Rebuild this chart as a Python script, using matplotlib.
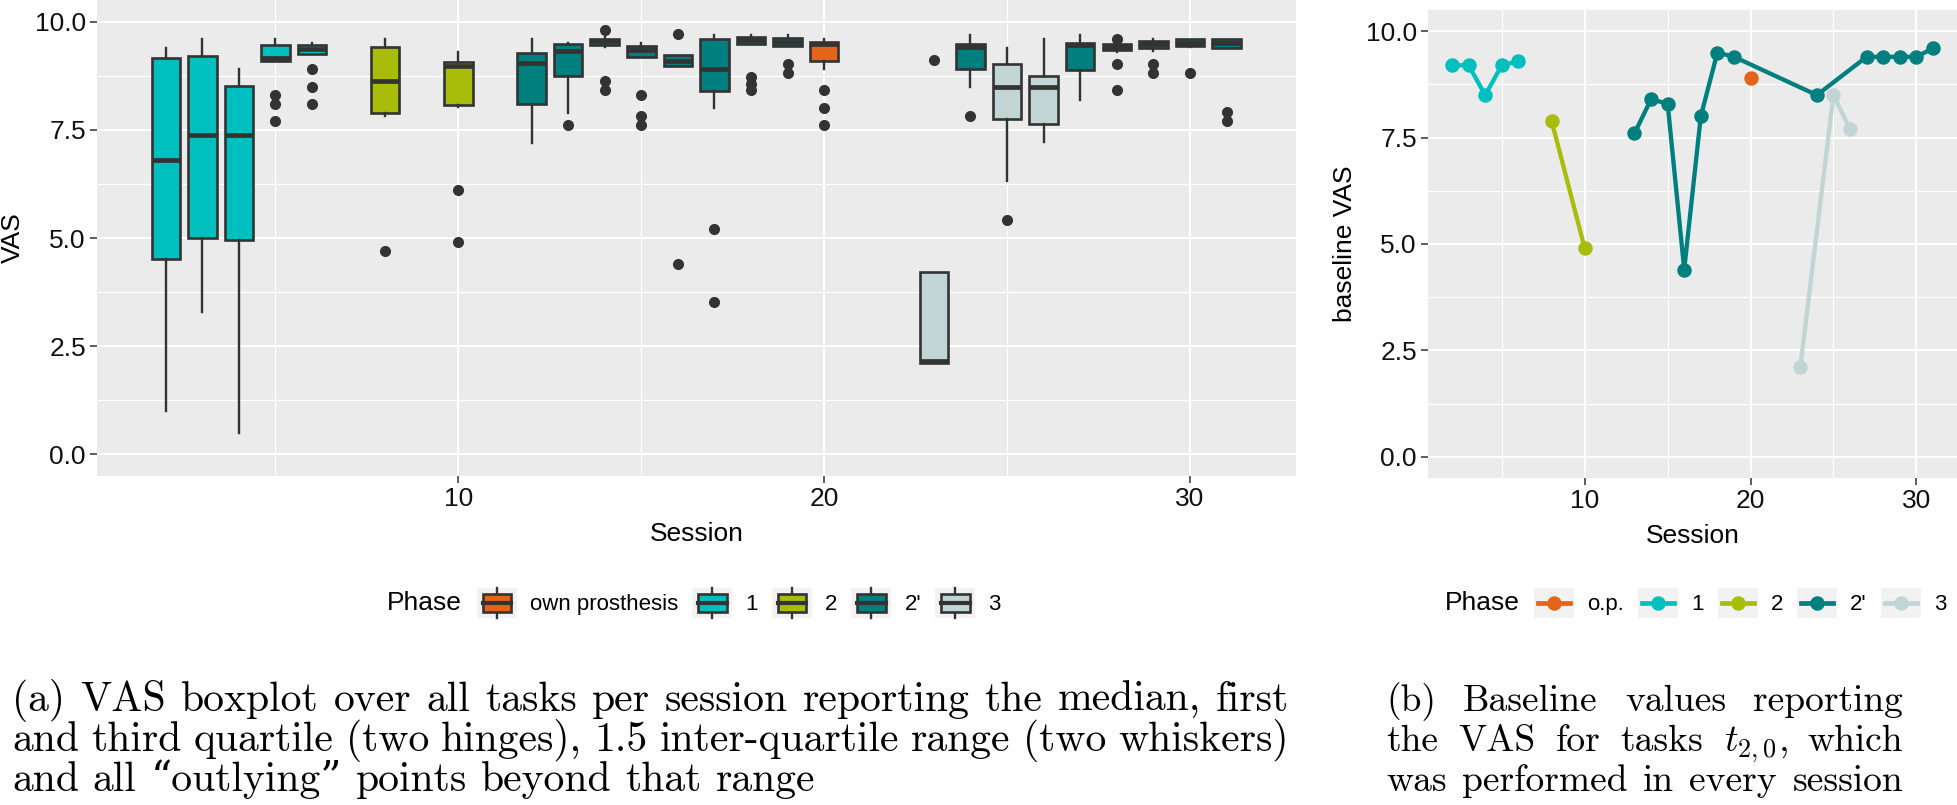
import matplotlib
matplotlib.use('Agg')
import matplotlib.pyplot as plt
from matplotlib.patches import Rectangle, Patch
from matplotlib.lines import Line2D
from matplotlib.legend_handler import HandlerBase
from matplotlib.ticker import FormatStrFormatter

W, H = 1957, 805

# phases: colour and the two legend spellings
phases = ['op', '1', '2', "2'", '3']
phase_colors = ['#E6641A', '#00BFBF', '#A8BC0A', '#007F7F', '#C0D5D4']
labels_a = ['own prosthesis', '1', '2', "2'", '3']
labels_b = ['o.p.', '1', '2', "2'", '3']

# (a) box statistics per session
sessions = [2, 3, 4, 5, 6, 8, 10, 12, 13, 14, 15, 16, 17, 18, 19, 20,
            23, 24, 25, 26, 27, 28, 29, 30, 31]
box_phase = ['1', '1', '1', '1', '1', '2', '2', "2'", "2'", "2'", "2'", "2'", "2'", "2'", "2'", 'op',
             '3', "2'", '3', '3', "2'", "2'", "2'", "2'", "2'"]
q1 = [4.51, 5.0, 4.95, 9.1, 9.26, 7.89, 8.08, 8.09, 8.74, 9.47, 9.18, 8.97, 8.4, 9.49, 9.44, 9.1,
      2.11, 8.91, 7.76, 7.64, 8.89, 9.34, 9.39, 9.44, 9.39]
med = [6.81, 7.37, 7.37, 9.15, 9.37, 8.62, 8.98, 9.04, 9.31, 9.55, 9.34, 9.1, 8.91, 9.57, 9.53, 9.49,
       2.15, 9.41, 8.5, 8.5, 9.45, 9.41, 9.48, 9.51, 9.5]
q3 = [9.17, 9.2, 8.51, 9.47, 9.47, 9.41, 9.06, 9.28, 9.48, 9.61, 9.43, 9.22, 9.61, 9.65, 9.62, 9.54,
      4.21, 9.49, 9.01, 8.75, 9.51, 9.48, 9.55, 9.61, 9.61]
whis_lo = [1.0, 3.3, 0.5, 9.1, 9.26, 7.82, 8.03, 7.2, 7.9, 9.41, 9.18, 8.97, 8.01, 9.49, 9.44, 8.91,
           2.11, 8.5, 6.31, 7.21, 8.2, 9.3, 9.32, 9.41, 9.39]
whis_hi = [9.39, 9.6, 8.9, 9.6, 9.5, 9.6, 9.29, 9.6, 9.5, 9.65, 9.5, 9.22, 9.7, 9.7, 9.7, 9.59,
           4.21, 9.7, 9.39, 9.59, 9.7, 9.55, 9.59, 9.61, 9.61]
fliers = [[], [], [], [8.3, 8.1, 7.7], [8.9, 8.5, 8.1], [4.71], [6.1, 4.9], [], [7.6],
          [9.81, 8.62, 8.41], [8.3, 7.81, 7.6], [9.71, 4.41], [5.21, 3.51], [8.71, 8.57, 8.43],
          [9.03, 8.81], [8.41, 8.01, 7.6], [9.11], [7.81], [5.41], [], [], [9.61, 9.03, 8.41],
          [9.03, 8.81], [8.81], [7.91, 7.71]]

# (b) baseline VAS of task t_{2,0}
base_session = [2, 3, 4, 5, 6, 8, 10, 13, 14, 15, 16, 17, 18, 19, 20, 23, 24, 25, 26, 27, 28, 29, 30, 31]
base_vas = [9.2, 9.2, 8.5, 9.2, 9.3, 7.9, 4.9, 7.6, 8.4, 8.3, 4.4, 8.0, 9.5, 9.4, 8.9, 2.1, 8.5, 8.5, 7.7,
            9.4, 9.4, 9.4, 9.4, 9.6]
base_phase = ['1', '1', '1', '1', '1', '2', '2', "2'", "2'", "2'", "2'", "2'", "2'", "2'", 'op',
              '3', "2'", '3', '3', "2'", "2'", "2'", "2'", "2'"]

caption_a = ["(a) VAS boxplot over all tasks per session reporting the median, first",
             "and third quartile (two hinges), 1.5 inter-quartile range (two whiskers)",
             "and all \u201coutlying\u201d points beyond that range"]
caption_b = ["(b) Baseline values reporting",
             "the VAS for tasks $t_{2,0}$, which",
             "was performed in every session"]

colour = dict(zip(phases, phase_colors))
DARK = '#333333'

plt.rcParams['font.family'] = ['Liberation Sans', 'DejaVu Sans']
plt.rcParams['mathtext.fontset'] = 'cm'

fig = plt.figure(figsize=(W / 100, H / 100), dpi=100)


def px_axes(x0, y0, x1, y1):
    return fig.add_axes([x0 / W, 1 - y1 / H, (x1 - x0) / W, (y1 - y0) / H])


def gg_style(ax):
    ax.set_facecolor('#EBEBEB')
    for s in ax.spines.values():
        s.set_visible(False)
    ax.set_xticks([10, 20, 30])
    ax.set_xticks([5, 15, 25], minor=True)
    ax.set_yticks([0, 2.5, 5, 7.5, 10])
    ax.set_yticks([1.25, 3.75, 6.25, 8.75], minor=True)
    ax.yaxis.set_major_formatter(FormatStrFormatter('%.1f'))
    ax.set_ylim(-0.5, 10.5)
    ax.grid(which='major', color='white', lw=1.5)
    ax.grid(which='minor', color='white', lw=0.8)
    ax.set_axisbelow(True)
    ax.tick_params(which='major', length=5, width=1.1, color=DARK, labelsize=19,
                   labelcolor='#111111', pad=3)
    ax.tick_params(which='minor', length=0)


ax1 = px_axes(97, 0, 1296, 476)
ax2 = px_axes(1428, 10, 1957, 478)
gg_style(ax1)
gg_style(ax2)

# (a) boxplots
stats = []
for i in range(len(sessions)):
    stats.append(dict(med=med[i], q1=q1[i], q3=q3[i], whislo=whis_lo[i],
                      whishi=whis_hi[i], fliers=fliers[i]))
arts = ax1.bxp(stats, positions=sessions, widths=0.78, patch_artist=True, showcaps=False,
               manage_ticks=False,
               boxprops=dict(edgecolor=DARK, linewidth=1.9),
               medianprops=dict(color=DARK, linewidth=3.4, solid_capstyle='butt'),
               whiskerprops=dict(color=DARK, linewidth=1.7),
               flierprops=dict(marker='o', markerfacecolor=DARK, markeredgecolor='none',
                               markersize=8))
for patch, p in zip(arts['boxes'], box_phase):
    patch.set_facecolor(colour[p])
ax1.set_xlim(0.12, 32.9)
ax1.set_xlabel('Session', fontsize=19, labelpad=8)
ax1.set_ylabel('VAS', fontsize=19, labelpad=7)

# (b) baseline lines
for p in phases:
    xs = [s for s, ph in zip(base_session, base_phase) if ph == p]
    ys = [v for v, ph in zip(base_vas, base_phase) if ph == p]
    ax2.plot(xs, ys, color=colour[p], lw=3.1, marker='o', ms=9.4, solid_capstyle='butt')
ax2.set_xlim(0.55, 32.45)
ax2.set_xlabel('Session', fontsize=19, labelpad=8)
ax2.set_ylabel('baseline VAS', fontsize=19, labelpad=6)


# legend keys in ggplot style
class BoxKey(HandlerBase):
    def create_artists(self, legend, orig, xd, yd, w, h, fs, trans):
        x0, y0 = -xd, -yd
        bg = Rectangle((x0, y0), w, h, facecolor='#F2F2F2', edgecolor='none', transform=trans)
        wl = Line2D([x0 + w / 2] * 2, [y0, y0 + h], color=DARK, lw=1.7, transform=trans)
        box = Rectangle((x0 + 0.14 * w, y0 + 0.2 * h), 0.72 * w, 0.6 * h,
                        facecolor=orig.get_facecolor(), edgecolor=DARK, lw=1.9, transform=trans)
        md = Line2D([x0 + 0.14 * w, x0 + 0.86 * w], [y0 + h / 2] * 2, color=DARK, lw=3,
                    transform=trans)
        return [bg, wl, box, md]


class LineKey(HandlerBase):
    def create_artists(self, legend, orig, xd, yd, w, h, fs, trans):
        x0, y0 = -xd, -yd
        bg = Rectangle((x0, y0), w, h, facecolor='#F2F2F2', edgecolor='none', transform=trans)
        ln = Line2D([x0 + 0.1 * w, x0 + 0.9 * w], [y0 + h / 2] * 2, color=orig.get_color(),
                    lw=3.4, transform=trans)
        dot = Line2D([x0 + w / 2], [y0 + h / 2], color=orig.get_color(), marker='o', ms=9.4,
                     lw=0, transform=trans)
        return [bg, ln, dot]


leg_kw = dict(ncol=5, loc='center left', frameon=False, fontsize=16, handlelength=1.8,
              handleheight=1.67, handletextpad=0.59, columnspacing=0.63, borderpad=0,
              borderaxespad=0)
fig.text(387 / W, 1 - 603 / H, 'Phase', fontsize=19, va='center', ha='left')
fig.legend([Patch(facecolor=c) for c in phase_colors], labels_a,
           handler_map={Patch: BoxKey()}, bbox_to_anchor=(477 / W, 1 - 603 / H), **leg_kw)
fig.text(1445 / W, 1 - 603 / H, 'Phase', fontsize=19, va='center', ha='left')
fig.legend([Line2D([], [], color=c) for c in phase_colors], labels_b,
           handler_map={Line2D: LineKey()}, bbox_to_anchor=(1534 / W, 1 - 603 / H), **leg_kw)

# captions, justified word by word
renderer = fig.canvas.get_renderer()
CAP_FONT = ['cmr10', 'DejaVu Serif']


def caption_line(text, x0, x1, y, size, justify=True):
    words = text.split(' ')
    txts = [fig.text(0, 1 - y / H, w, fontsize=size, family=CAP_FONT, va='baseline')
            for w in words]
    widths = [t.get_window_extent(renderer).width for t in txts]
    if justify:
        gap = (x1 - x0 - sum(widths)) / (len(words) - 1)
    else:
        gap = size * 100 / 72 * 0.333
    x = x0
    for t, w in zip(txts, widths):
        t.set_x(x / W)
        x += w + gap


for i, line in enumerate(caption_a):
    caption_line(line, 12, 1289, 711 + 40 * i, 30, justify=(i < 2))
for i, line in enumerate(caption_b):
    caption_line(line, 1386, 1903, 711 + 40 * i, 27, justify=True)

fig.savefig('out.png', dpi=100)
